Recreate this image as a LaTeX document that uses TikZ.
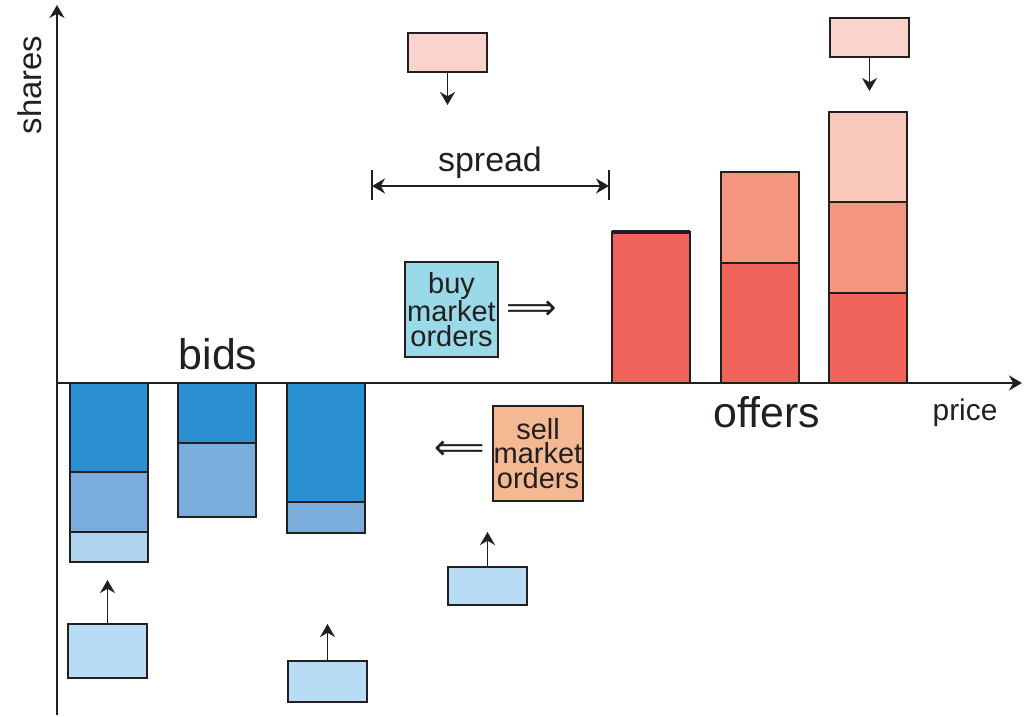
\documentclass[tikz,border=0pt]{standalone}
\usepackage{fontspec}
\setmainfont{Liberation Sans}
\newfontfamily\arrowfont{DejaVu Sans}
\usetikzlibrary{arrows.meta}
\definecolor{bidA}{HTML}{2B90D2}
\definecolor{bidB}{HTML}{7AADDC}
\definecolor{bidC}{HTML}{AED3EE}
\definecolor{bidNew}{HTML}{B8DCF3}
\definecolor{askA}{HTML}{EF635B}
\definecolor{askB}{HTML}{F4957F}
\definecolor{askC}{HTML}{F8C8BA}
\definecolor{askNew}{HTML}{F9D3CC}
\definecolor{buyMkt}{HTML}{99D9E8}
\definecolor{sellMkt}{HTML}{F4B992}
\definecolor{ink}{HTML}{231F20}

\begin{document}
\begin{tikzpicture}
[x=0.02cm,y=-0.02cm,%
  bar/.style={draw=ink,line width=1.2pt},%
  order/.style={draw=ink,line width=1.2pt,inner sep=0pt,minimum width=1.58cm},%
  market/.style={draw=ink,line width=1.2pt,inner sep=0pt,align=center,%
    font=\fontsize{16.5}{14}\selectfont},%
  flow/.style={-{Stealth[length=2.6mm,width=3mm]},line width=1.1pt,ink},%
  every node/.style={text=ink}]
\useasboundingbox (0,0) rectangle (1030,716);
%% axes
\coordinate (origin) at (57,383);
\coordinate (ytop) at (57,5);
\coordinate (ybot) at (57,715);
\coordinate (xend) at (1022,383);
\draw[flow] (ybot) -- (ytop);
\draw[flow] (origin) -- (xend);
\node[rotate=90,font=\fontsize{18.7}{20}\selectfont] (shares) at (30,85) {shares};
\node[anchor=base,font=\fontsize{17}{20}\selectfont] (price) at (965,420) {price};
%% bids
\foreach \xl/\yt/\yb/\col in {70/383/472/bidA, 70/472/532/bidB, 70/532/562/bidC,
  178/383/443/bidA, 178/443/517/bidB, 287/383/502/bidA, 287/502/533/bidB}
{
  \draw[bar,fill=\col] (\xl,\yt) rectangle (\xl+78,\yb);
};
\node[anchor=base,font=\fontsize{24.4}{28}\selectfont] (bids) at (218,369) {bids};
%% offers
\foreach \xl/\yt/\yb/\col in {612/232/383/askA, 721/263/383/askA, 721/172/263/askB,
  829/293/383/askA, 829/202/293/askB, 829/112/202/askC}
{
  \draw[bar,fill=\col] (\xl,\yt) rectangle (\xl+78,\yb);
};
\draw[ink,line width=2.2pt] (612,232) -- (690,232);
\node[anchor=base,font=\fontsize{24.4}{28}\selectfont] (offers) at (767,427) {offers};
%% spread
\coordinate (spreadL) at (372,186);
\coordinate (spreadR) at (609,186);
\draw[ink,line width=1.1pt] (372,170) -- (372,200) (609,170) -- (609,200);
\draw[{Stealth[length=2.6mm,width=3mm]}-{Stealth[length=2.6mm,width=3mm]},line width=1.1pt,ink]
  (spreadL) -- (spreadR);
\node[anchor=base,font=\fontsize{19.3}{22}\selectfont] (spread) at (490,172) {spread};
%% new limit orders
\node[order,fill=bidNew,minimum height=1.08cm] (nbA) at (107.5,651) {};
\node[order,fill=bidNew,minimum height=0.82cm] (nbB) at (327.5,681.5) {};
\node[order,fill=bidNew,minimum height=0.76cm] (nbC) at (487.5,586) {};
\node[order,fill=askNew,minimum height=0.78cm] (naA) at (447.5,52.5) {};
\node[order,fill=askNew,minimum height=0.78cm] (naB) at (869.5,37.5) {};
\coordinate (tipA) at (107.5,580);
\coordinate (tipB) at (327.5,624);
\coordinate (tipC) at (487.5,532);
\coordinate (tipD) at (447.5,105);
\coordinate (tipE) at (869.5,91);
\path
\foreach \startNode/\endNode in {nbA/tipA, nbB/tipB, nbC/tipC}
{
  (\startNode.north) edge[flow] (\endNode)
}
\foreach \startNode/\endNode in {naA/tipD, naB/tipE}
{
  (\startNode.south) edge[flow] (\endNode)
};
%% market orders
\node[market,fill=buyMkt,minimum width=1.86cm,minimum height=1.9cm] (buy)
  at (451.5,309.5) {buy\\market\\orders};
\node[market,fill=sellMkt,minimum width=1.8cm,minimum height=1.9cm] (sell)
  at (538,453.5) {sell\\market\\orders};
\node[font=\arrowfont\fontsize{20}{22}\selectfont,inner sep=0pt] (buyArrow) at (532,310) {⟹};
\node[font=\arrowfont\fontsize{20}{22}\selectfont,inner sep=0pt] (sellArrow) at (460,450) {⟸};
\end{tikzpicture}
\end{document}
